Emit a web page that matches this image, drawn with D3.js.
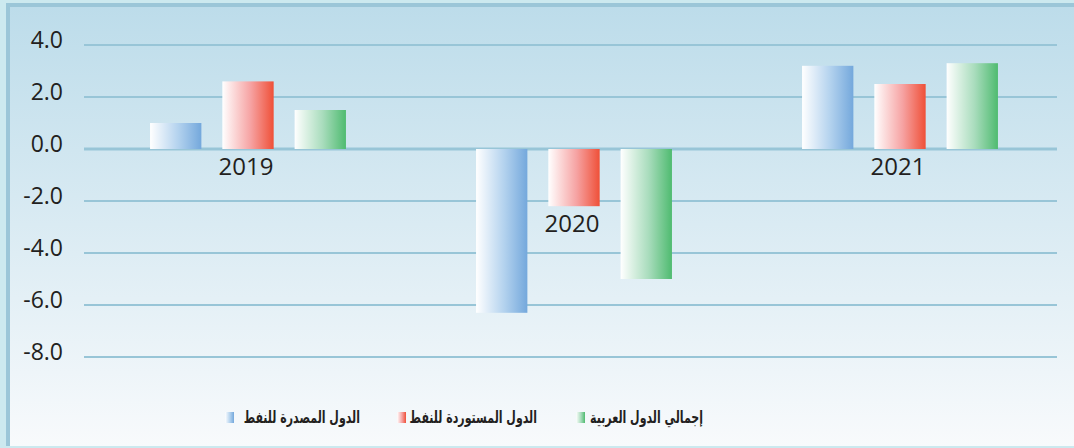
<!DOCTYPE html>
<html>
<head>
<meta charset="utf-8">
<script src="https://cdn.jsdelivr.net/npm/d3@7"></script>
<style>
  body { margin: 0; background: #cce9ef; }
  svg { display: block; }
</style>
</head>
<body>
<svg id="chart" width="1074" height="448"></svg>
<script>
// chart data
const years = ["2019", "2020", "2021"];
const seriesNames = ["الدول المصدرة للنفط", "الدول المستوردة للنفط", "إجمالي الدول العربية"];
const exporters = [1.0, -6.3, 3.2];
const importers = [2.6, -2.2, 2.5];
const arabTotal = [1.5, -5.0, 3.3];
const yTicks = [4, 2, 0, -2, -4, -6, -8];

const seriesValues = [exporters, importers, arabTotal];
const seriesColors = [
    ["#ffffff", "#b3d2ee", "#74a8dc"],
    ["#ffffff", "#f6a3a3", "#ef5038"],
    ["#ffffff", "#a8dcbc", "#4fbb70"]
];

const svg = d3.select("#chart");
const width = +svg.attr("width");
const height = +svg.attr("height");
const defs = svg.append("defs");

// background panel gradient
const bg = defs.append("linearGradient").attr("id", "bg")
    .attr("x1", 0).attr("y1", 0).attr("x2", 0).attr("y2", 1);
bg.append("stop").attr("offset", "0%").attr("stop-color", "#bcdcea");
bg.append("stop").attr("offset", "100%").attr("stop-color", "#f8fafc");

// bar gradients: white on the left to colour on the right
seriesColors.forEach((c, i) => {
    const g = defs.append("linearGradient").attr("id", "bar" + i)
        .attr("x1", 0).attr("y1", 0).attr("x2", 1).attr("y2", 0);
    g.append("stop").attr("offset", "0%").attr("stop-color", c[0]);
    g.append("stop").attr("offset", "55%").attr("stop-color", c[1]);
    g.append("stop").attr("offset", "100%").attr("stop-color", c[2]);
});

// frame
svg.append("rect").attr("x", 6).attr("y", 3).attr("width", width - 6).attr("height", height - 5)
    .attr("fill", "url(#bg)");
svg.append("rect").attr("x", 6).attr("y", 3).attr("width", width - 6).attr("height", 4)
    .attr("fill", "#9bc6d8");
svg.append("rect").attr("x", 6).attr("y", 3).attr("width", 4).attr("height", height - 5)
    .attr("fill", "#9bc6d8");

// scales
const plotLeft = 84, plotRight = 1057;
const y = d3.scaleLinear().domain([-8, 4]).range([357, 45]);
const x0 = d3.scaleBand().domain(years).range([85, 1063]).padding(0);
const x1 = d3.scaleBand().domain(d3.range(3)).range([0, x0.bandwidth()])
    .paddingInner(0.29).paddingOuter(0.9);

// gridlines
svg.append("g").selectAll("line")
    .data(yTicks)
    .join("line")
    .attr("x1", plotLeft).attr("x2", plotRight)
    .attr("y1", d => y(d)).attr("y2", d => y(d))
    .attr("stroke", "#98c5d7")
    .attr("stroke-width", d => d === 0 ? 3 : 2);

// y axis labels
svg.append("g").selectAll("text")
    .data(yTicks)
    .join("text")
    .attr("x", 63).attr("y", d => y(d) + 3)
    .attr("text-anchor", "end")
    .attr("font-family", "'Open Sans', sans-serif")
    .attr("font-size", 23)
    .attr("fill", "#231f20")
    .text(d => d.toFixed(1));

// bars
const groups = svg.append("g").selectAll("g")
    .data(years)
    .join("g")
    .attr("transform", d => `translate(${x0(d)},0)`);

groups.selectAll("rect")
    .data((d, i) => seriesValues.map((vals, s) => ({ s: s, v: vals[i] })))
    .join("rect")
    .attr("x", d => x1(d.s))
    .attr("width", x1.bandwidth())
    .attr("y", d => y(Math.max(0, d.v)))
    .attr("height", d => Math.abs(y(d.v) - y(0)))
    .attr("fill", d => "url(#bar" + d.s + ")");

// year labels under the zero line, or under the middle bar when negative
groups.append("text")
    .attr("x", x0.bandwidth() / 2 - 2)
    .attr("y", (d, i) => Math.max(y(0), y(importers[i])) + 26)
    .attr("text-anchor", "middle")
    .attr("font-family", "'Open Sans', sans-serif")
    .attr("font-size", 24)
    .attr("fill", "#231f20")
    .text(d => d);

// legend (right to left)
const legendItems = [
    { name: seriesNames[0], s: 0, sq: 225, tx: 360 },
    { name: seriesNames[1], s: 1, sq: 397, tx: 537 },
    { name: seriesNames[2], s: 2, sq: 576, tx: 703 }
];
const legend = svg.append("g");
legend.selectAll("rect")
    .data(legendItems)
    .join("rect")
    .attr("x", d => d.sq).attr("y", 412)
    .attr("width", 9).attr("height", 11)
    .attr("fill", d => "url(#bar" + d.s + ")");
legend.selectAll("text")
    .data(legendItems)
    .join("text")
    .attr("transform", d => `translate(${d.tx},418) scale(1,1.5)`)
    .attr("text-anchor", "end")
    .attr("dominant-baseline", "middle")
    .attr("font-family", "'DejaVu Sans', sans-serif")
    .attr("font-weight", "bold")
    .attr("font-size", 11)
    .attr("fill", "#231f20")
    .text(d => d.name);
</script>
</body>
</html>
